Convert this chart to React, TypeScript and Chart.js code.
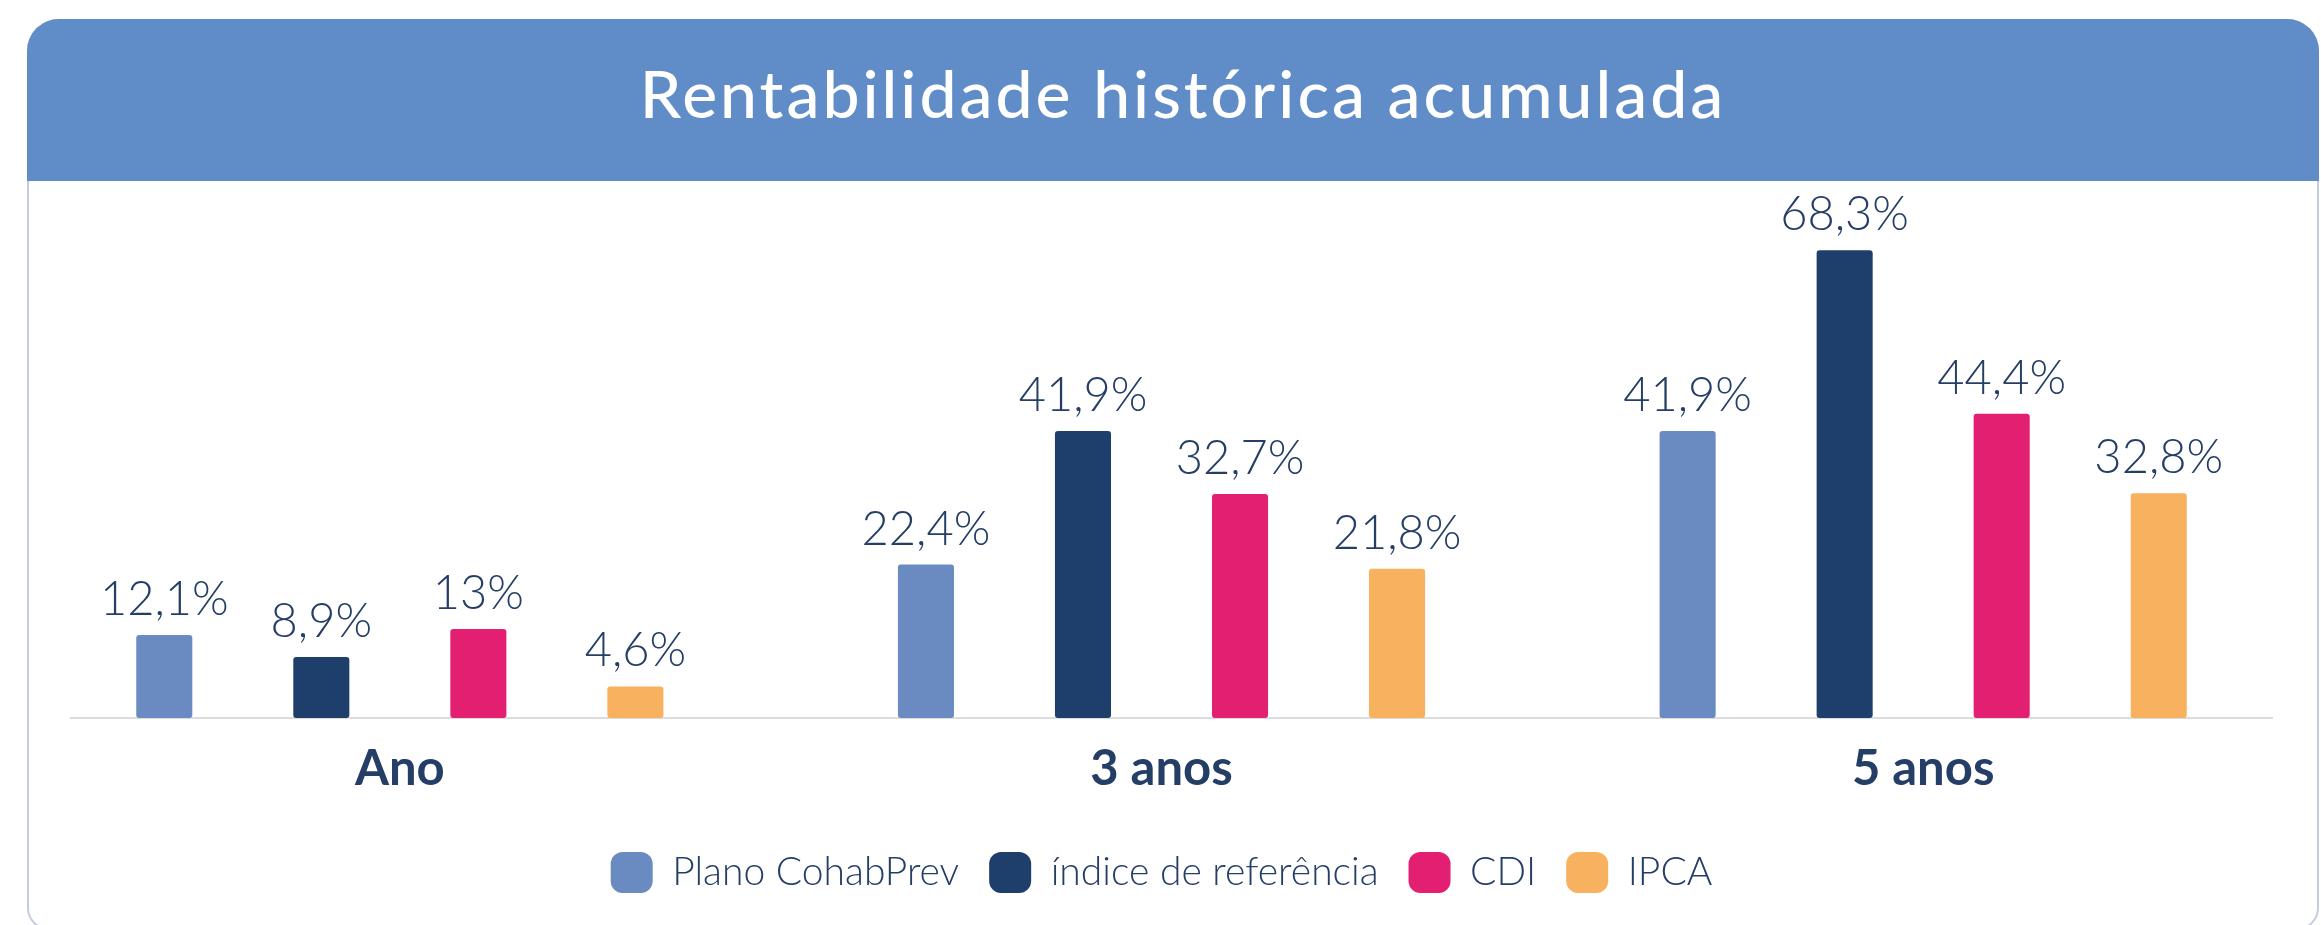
import React, { useEffect, useRef } from "react";
import { Chart, registerables } from "chart.js";

Chart.register(...registerables);

// ---- data ----
const categories = ["Ano", "3 anos", "5 anos"];
const seriesNames = ["Plano CohabPrev", "índice de referência", "CDI", "IPCA"];
const planoValues = [12.1, 22.4, 41.9];
const indiceValues = [8.9, 41.9, 68.3];
const cdiValues = [13, 32.7, 44.4];
const ipcaValues = [4.6, 21.8, 32.8];
const seriesColors = ["#6A8BC1", "#1E3F6B", "#E31F71", "#F8B25F"];
const titleText = "Rentabilidade histórica acumulada";

const TEXT = "#253E66";
const FONT = "Lato, 'Open Sans', sans-serif";

const fmt = (v: number) => String(v).replace(".", ",") + "%";

const baselinePlugin = {
  id: "baselineLine",
  beforeDatasetsDraw(chart: any) {
    const { ctx, chartArea } = chart;
    const y = chart.scales.y.getPixelForValue(0);
    ctx.save();
    ctx.strokeStyle = "#DCDCDC";
    ctx.lineWidth = 2;
    ctx.beginPath();
    ctx.moveTo(chartArea.left + 51, y);
    ctx.lineTo(chartArea.right - 31, y);
    ctx.stroke();
    ctx.restore();
  },
};

const valueLabelPlugin = {
  id: "valueLabels",
  afterDatasetsDraw(chart: any) {
    const { ctx } = chart;
    ctx.save();
    ctx.font = `300 47px ${FONT}`;
    ctx.fillStyle = TEXT;
    ctx.textAlign = "center";
    ctx.textBaseline = "alphabetic";
    chart.data.datasets.forEach((ds: any, i: number) => {
      const meta = chart.getDatasetMeta(i);
      meta.data.forEach((bar: any, j: number) => {
        ctx.fillText(fmt(ds.data[j]), bar.x, bar.y - 20);
      });
    });
    ctx.restore();
  },
};

export default function App() {
  const canvasRef = useRef<HTMLCanvasElement | null>(null);

  useEffect(() => {
    let chart: Chart | null = null;
    let cancelled = false;
    const build = () => {
      if (cancelled || !canvasRef.current) return;
      const valueSets = [planoValues, indiceValues, cdiValues, ipcaValues];
      chart = new Chart(canvasRef.current, {
        type: "bar",
        data: {
          labels: categories,
          datasets: seriesNames.map((name, i) => ({
            label: name,
            data: valueSets[i],
            backgroundColor: seriesColors[i],
            borderColor: seriesColors[i],
            borderWidth: 0,
            borderRadius: 3,
            borderSkipped: false,
            categoryPercentage: 0.8247,
            barPercentage: 0.357,
          })),
        },
        options: {
          responsive: false,
          animation: false,
          devicePixelRatio: 1,
          layout: { padding: { top: 170, left: 19, right: 17, bottom: 22 } },
          scales: {
            x: {
              type: "category",
              grid: { display: false, drawTicks: false },
              border: { display: false },
              ticks: {
                color: TEXT,
                padding: 22,
                font: { family: FONT, size: 49, weight: "bold" },
              },
              afterFit: (scale: any) => {
                scale.height = 104;
              },
            },
            y: {
              display: false,
              min: 0,
              max: 80,
            },
          },
          plugins: {
            legend: {
              position: "bottom",
              labels: {
                color: TEXT,
                boxWidth: 42,
                boxHeight: 41,
                padding: 30,
                useBorderRadius: true,
                borderRadius: 12,
                font: { family: FONT, size: 39, weight: "300" },
              },
            },
            tooltip: { enabled: false },
            title: { display: false },
          },
        },
        plugins: [baselinePlugin, valueLabelPlugin],
      } as any);
    };
    const fonts = (document as any).fonts;
    if (fonts && fonts.load) {
      Promise.all([
        fonts.load(`300 47px Lato`),
        fonts.load(`bold 49px Lato`),
        fonts.load(`500 66px Lato`),
      ])
        .catch(() => {})
        .then(build);
    } else {
      build();
    }
    return () => {
      cancelled = true;
      if (chart) chart.destroy();
    };
  }, []);

  return (
    <div style={{ position: "absolute", left: 0, top: 0, width: 2321, height: 925, overflow: "hidden", background: "#fff" }}>
      <div
        style={{
          position: "absolute",
          left: 27,
          top: 19,
          width: 2292,
          height: 911,
          boxSizing: "border-box",
          border: "2px solid #C3CCDD",
          borderRadius: "32px 32px 22px 22px",
          background: "#fff",
        }}
      />
      <div
        style={{
          position: "absolute",
          left: 27,
          top: 19,
          width: 2292,
          height: 162,
          background: "#608DC8",
          borderRadius: "32px 32px 0 0",
        }}
      />
      <div
        style={{
          position: "absolute",
          left: 37,
          top: 59.5,
          width: 2292,
          textAlign: "center",
          color: "#fff",
          fontFamily: FONT,
          fontWeight: 500,
          fontSize: 66,
          lineHeight: "66px",
          letterSpacing: 3,
          whiteSpace: "nowrap",
        }}
      >
        {titleText}
      </div>
      <canvas ref={canvasRef} width={2321} height={925} style={{ position: "absolute", left: 0, top: 0 }} />
    </div>
  );
}
